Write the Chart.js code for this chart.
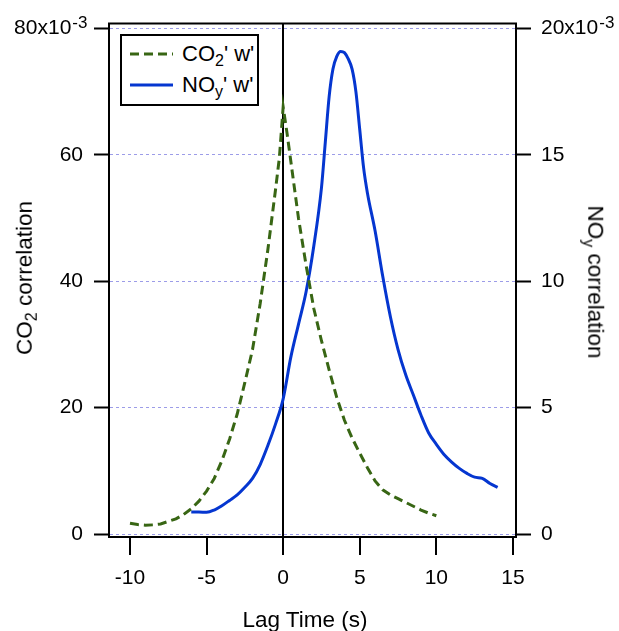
<!DOCTYPE html>
<html>
<head>
<meta charset="utf-8">
<script src="https://cdn.jsdelivr.net/npm/chart.js@4.4.1/dist/chart.umd.min.js"></script>
<style>
  body { margin: 0; background: #fff; font-family: "Liberation Sans", Arial, sans-serif; }
  #wrap { position: relative; width: 619px; height: 631px; }
  #chart { position: absolute; left: 0; top: 0; }
  .ttl { position: absolute; font-size: 22.5px; color: #000; white-space: nowrap; line-height: 1; }
  .ttl sub, #legend sub { font-size: 16px; vertical-align: -5px; line-height: 0; }
  #legend { position: absolute; left: 120px; top: 34px; width: 135px; height: 68px; border: 2px solid #000; background: #fff; }
  #legend .row { position: absolute; left: 8px; height: 24px; display: flex; align-items: center; font-size: 22px; line-height: 1; white-space: nowrap; }
  #legend svg { margin-right: 9px; }
</style>
</head>
<body>
<div id="wrap">
  <canvas id="chart" width="619" height="631"></canvas>
  <div id="legend">
    <div class="row" style="top:6px"><svg width="43" height="6"><line x1="0" y1="3" x2="43" y2="3" stroke="#386614" stroke-width="3" stroke-dasharray="9,5"/></svg><span>CO<sub>2</sub>' w'</span></div>
    <div class="row" style="top:37px"><svg width="43" height="6"><line x1="0" y1="3" x2="43" y2="3" stroke="#0536d0" stroke-width="3"/></svg><span>NO<sub>y</sub>' w'</span></div>
  </div>
  <div class="ttl" id="ttlLeft" style="left:25px; top:278px; transform: translate(-50%,-50%) rotate(-90deg);">CO<sub>2</sub> correlation</div>
  <div class="ttl" id="ttlRight" style="left:595px; top:282px; transform: translate(-50%,-50%) rotate(90deg);">NO<sub>y</sub> correlation</div>
  <div class="ttl" id="ttlX" style="left:305px; top:620px; transform: translate(-50%,-50%);">Lag Time (s)</div>
</div>
<script>
// data (correlation values in units of 10^-3)
const co2Lag  = [-10,-9.5,-9,-8.5,-8,-7.5,-7,-6.5,-6,-5.5,-5,-4.5,-4,-3.5,-3,-2.5,-2,-1.5,-1,-0.5,-0.25,0,0.25,0.5,1,1.5,2,2.5,3,3.5,4,4.5,5,5.5,6,6.5,7,7.5,8,8.5,9,9.5,10];
const co2Corr = [1.7,1.5,1.4,1.45,1.6,2.0,2.4,3.1,4.0,5.2,6.8,8.8,11.6,15.0,19.0,24.0,29.2,36.5,45.0,54.5,59.5,67.6,63.5,59.0,50.0,42.5,35.7,30.6,26.0,21.6,18.0,15.2,12.8,10.5,8.4,7.0,6.2,5.6,5.0,4.4,3.8,3.3,2.9];
const noyLag  = [-6,-5.5,-5,-4.5,-4,-3.5,-3,-2.5,-2,-1.5,-1,-0.5,0,0.5,1,1.5,2,2.5,2.75,3,3.25,3.5,3.75,4,4.25,4.5,4.75,5,5.25,5.5,6,6.5,7,7.5,8,8.5,9,9.5,10,10.5,11,11.5,12,12.5,13,13.5,14];
const noyCorr = [0.87,0.87,0.86,0.95,1.12,1.33,1.55,1.85,2.2,2.75,3.5,4.35,5.35,7.0,8.3,9.6,11.4,13.7,15.5,17.3,18.4,18.9,19.1,19.05,18.8,18.4,17.5,16.0,14.5,13.5,12.0,10.2,8.6,7.3,6.3,5.5,4.7,4.0,3.55,3.15,2.85,2.6,2.4,2.25,2.2,2.0,1.85];

const xTicks     = [-10, -5, 0, 5, 10, 15];
const leftTicks  = [0, 20, 40, 60, 80];
const rightTicks = [0, 5, 10, 15, 20];

const green = '#386614';
const blue  = '#0536d0';
const gridColor = '#9c9ce8';
const fontFamily = '"Liberation Sans", Arial, sans-serif';
const tickFont = { family: fontFamily, size: 21 };
const tickLen = 15, leftPad = 11, rightPad = 10;
const expPad = '  ';

// top frame line + "-3" exponents on the top tick labels
const frameAndExp = {
  id: 'frameAndExp',
  afterDraw(chart) {
    const { ctx, chartArea: a, scales } = chart;
    ctx.save();
    ctx.strokeStyle = '#000';
    ctx.lineWidth = 2;
    ctx.beginPath();
    ctx.moveTo(a.left - 1, a.top);
    ctx.lineTo(a.right + 1, a.top);
    ctx.stroke();

    ctx.font = '21px ' + fontFamily;
    const padW = ctx.measureText(expPad).width;
    const topRightW = ctx.measureText(rightTicks[rightTicks.length - 1] + 'x10').width;
    ctx.font = '17px ' + fontFamily;
    ctx.fillStyle = '#000';
    ctx.textAlign = 'left';
    ctx.textBaseline = 'alphabetic';
    const yl = scales.y.getPixelForValue(leftTicks[leftTicks.length - 1]);
    ctx.fillText('-3', a.left - tickLen - leftPad - padW + 1, yl - 1);
    const yr = scales.y1.getPixelForValue(rightTicks[rightTicks.length - 1]);
    ctx.fillText('-3', a.right + tickLen + rightPad + topRightW + 1, yr - 1);
    ctx.restore();
  }
};

new Chart(document.getElementById('chart'), {
  type: 'line',
  data: {
    datasets: [
      {
        label: "CO2' w'",
        data: co2Lag.map((x, i) => ({ x, y: co2Corr[i] })),
        yAxisID: 'y',
        borderColor: green,
        borderWidth: 3,
        borderDash: [9, 5],
        pointRadius: 0,
        tension: 0,
        fill: false
      },
      {
        label: "NOy' w'",
        data: noyLag.map((x, i) => ({ x, y: noyCorr[i] })),
        yAxisID: 'y1',
        borderColor: blue,
        borderWidth: 3,
        pointRadius: 0,
        cubicInterpolationMode: 'monotone',
        fill: false
      }
    ]
  },
  options: {
    responsive: false,
    animation: false,
    devicePixelRatio: 1,
    layout: { padding: { top: 19, left: 0, right: 0, bottom: 0 } },
    plugins: { legend: { display: false }, tooltip: { enabled: false } },
    scales: {
      x: {
        type: 'linear',
        min: -11.37, max: 15.2,
        afterBuildTicks: s => { s.ticks = xTicks.map(v => ({ value: v })); },
        afterFit: s => { s.height = 94; },
        grid: {
          color: c => (c.tick && c.tick.value === 0) ? '#000' : 'rgba(0,0,0,0)',
          lineWidth: c => (c.tick && c.tick.value === 0) ? 2 : 0,
          tickLength: 18, tickColor: '#000', tickWidth: 2
        },
        border: { display: true, color: '#000', width: 2 },
        ticks: { color: '#000', font: tickFont, padding: 11, maxRotation: 0, callback: v => v }
      },
      y: {
        position: 'left',
        min: -0.47, max: 80.8,
        afterBuildTicks: s => { s.ticks = leftTicks.map(v => ({ value: v })); },
        afterFit: s => { s.width = 109; },
        grid: { color: gridColor, lineWidth: 1, tickLength: tickLen, tickColor: '#000', tickWidth: 2 },
        border: { display: true, color: '#000', width: 2, dash: [3, 3] },
        ticks: { color: '#000', font: tickFont, padding: leftPad,
                 callback: v => v === leftTicks[leftTicks.length - 1] ? v + 'x10' + expPad : String(v) }
      },
      y1: {
        position: 'right',
        min: -0.1175, max: 20.2,
        afterBuildTicks: s => { s.ticks = rightTicks.map(v => ({ value: v })); },
        afterFit: s => { s.width = 103; },
        grid: { drawOnChartArea: false, tickLength: tickLen, tickColor: '#000', tickWidth: 2 },
        border: { display: true, color: '#000', width: 2 },
        ticks: { color: '#000', font: tickFont, padding: rightPad,
                 callback: v => v === rightTicks[rightTicks.length - 1] ? v + 'x10' : String(v) }
      }
    }
  },
  plugins: [frameAndExp]
});
</script>
</body>
</html>
